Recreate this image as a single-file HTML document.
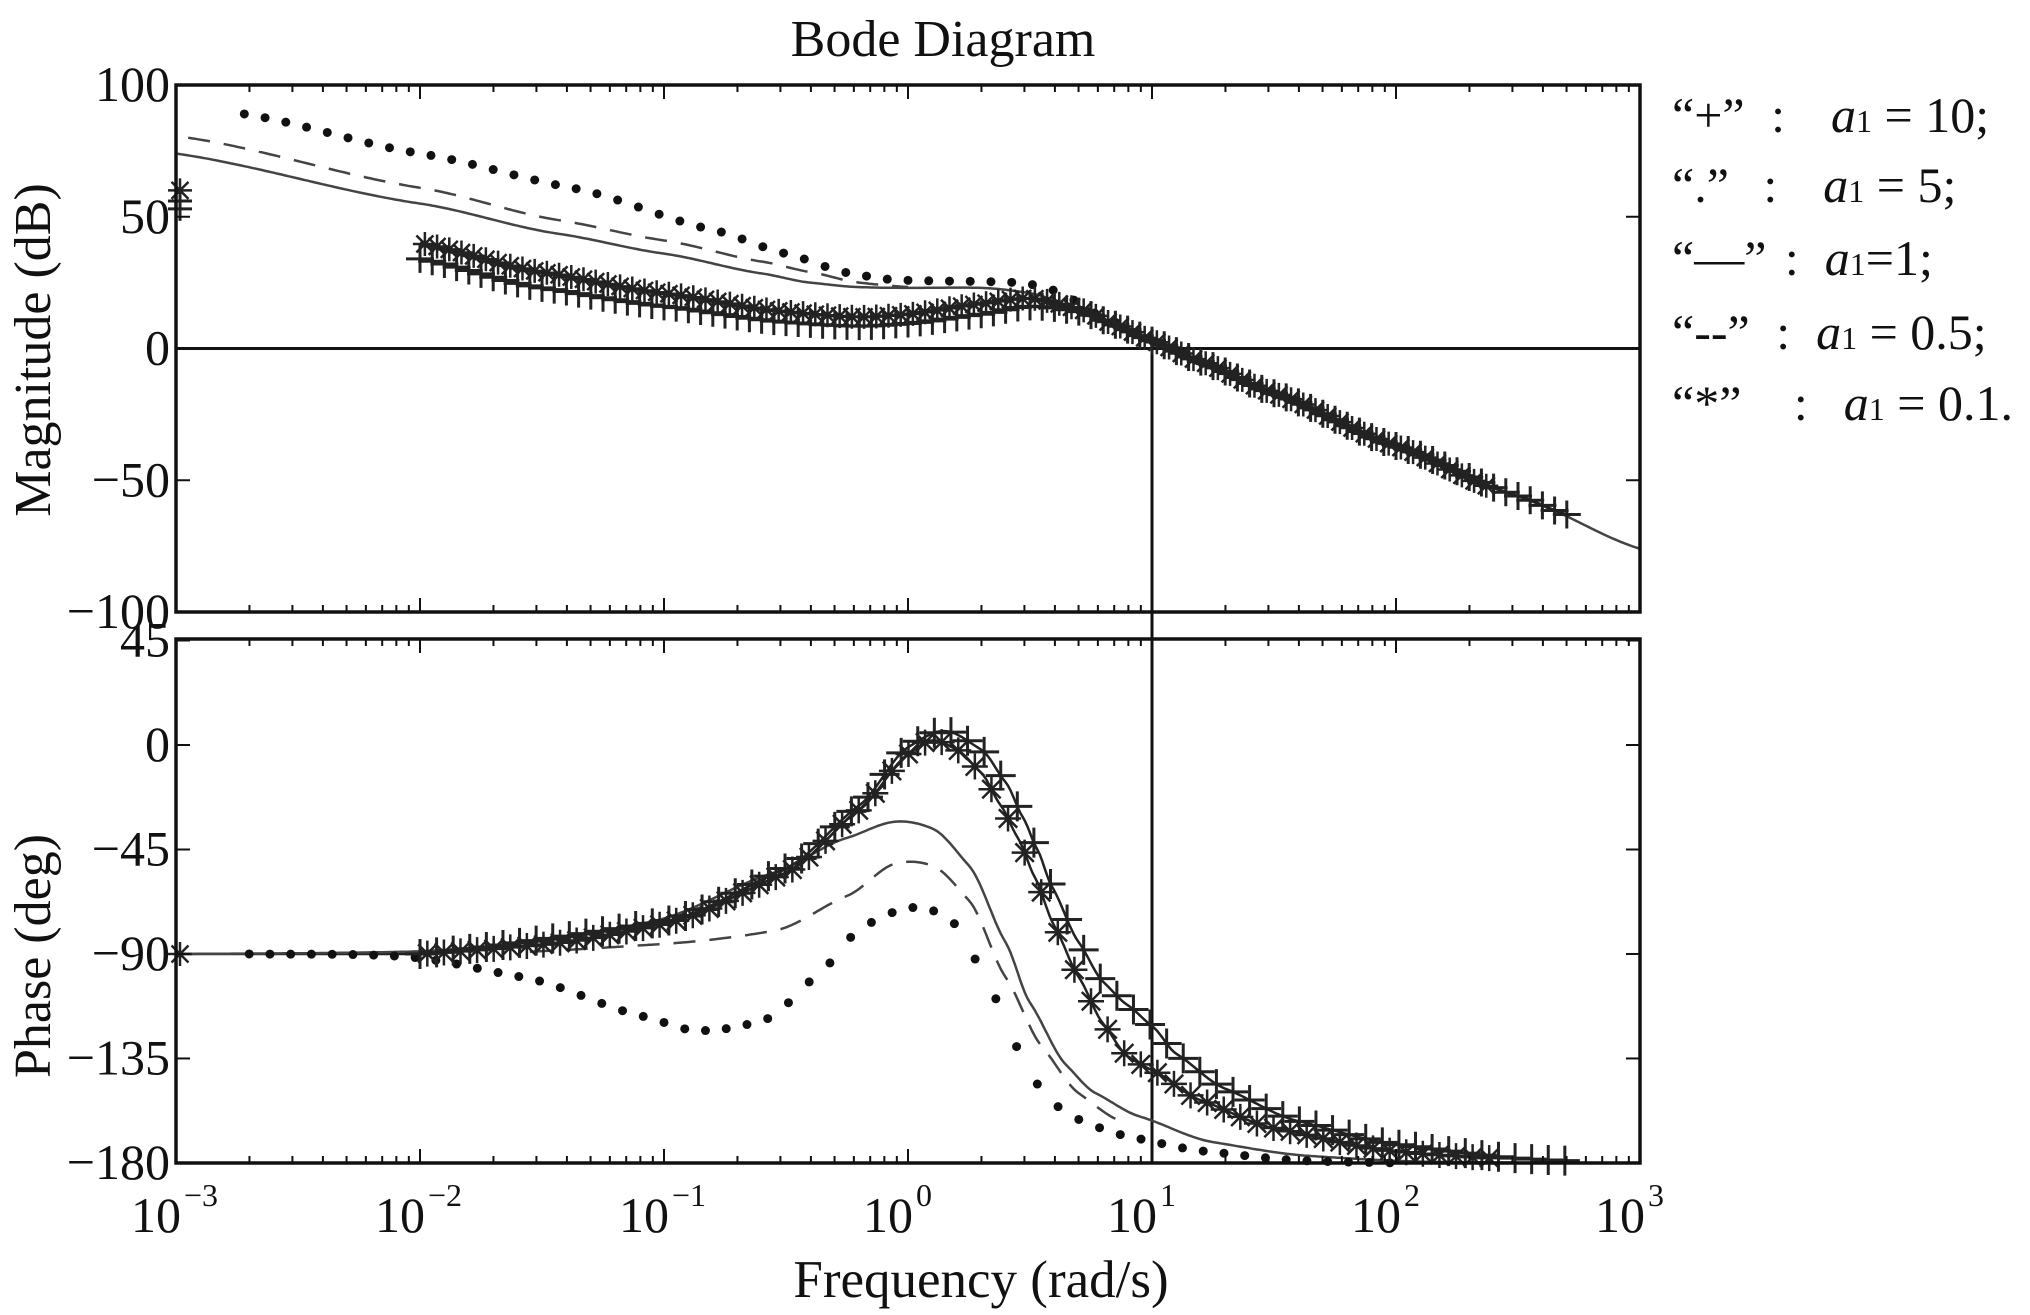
<!DOCTYPE html>
<html><head><meta charset="utf-8">
<style>
html,body{margin:0;padding:0;background:#fff;}
svg{display:block;}
text{font-family:"Liberation Serif",serif;fill:#111;}
</style></head>
<body>
<svg id="s" width="2030" height="1315" xmlns="http://www.w3.org/2000/svg">
<text x="943" y="56" font-size="52" text-anchor="middle">Bode Diagram</text>
<text transform="translate(50,350) rotate(-90)" font-size="52" text-anchor="middle">Magnitude (dB)</text>
<text transform="translate(50,956) rotate(-90)" font-size="52" text-anchor="middle">Phase (deg)</text>
<text x="981" y="1297" font-size="53" text-anchor="middle">Frequency (rad/s)</text>
<g font-size="50">
<text x="1672" y="132">“+” <tspan dx="14">:</tspan><tspan dx="46" font-style="italic">a</tspan><tspan font-size="32">1</tspan> = 10;</text>
<text x="1672" y="202">“.” <tspan dx="22">:</tspan><tspan dx="46" font-style="italic">a</tspan><tspan font-size="32">1</tspan> = 5;</text>
<text x="1672" y="275">“—” <tspan dx="6">:</tspan><tspan dx="26" font-style="italic">a</tspan><tspan font-size="32">1</tspan>=1;</text>
<text x="1672" y="349">“--” <tspan dx="14">:</tspan><tspan dx="26" font-style="italic">a</tspan><tspan font-size="32">1</tspan> = 0.5;</text>
<text x="1672" y="420">“*” <tspan dx="40">:</tspan><tspan dx="36" font-style="italic">a</tspan><tspan font-size="32">1</tspan> = 0.1.</text>
</g>
<g id="g"></g>
</svg>
<script>
const NS="http://www.w3.org/2000/svg",G=document.getElementById('g');
const X0=176,DEC=244,X1=X0+6*DEC;
const MT=85,MB=612,PT=639,PB=1163;
const xm=l=>X0+(l+3)*DEC;
const ym=d=>348.5-d*2.635;
const yp=d=>745-d*2.322;
function el(t,a,p){const e=document.createElementNS(NS,t);for(const k in a)e.setAttribute(k,a[k]);(p||G).appendChild(e);return e;}
function interp(pts,l){for(let i=0;i<pts.length-1;i++){const a=pts[i],b=pts[i+1];if(l>=a[0]&&l<=b[0]){
 const t=(l-a[0])/(b[0]-a[0]);
 const p0=pts[Math.max(0,i-1)],p3=pts[Math.min(pts.length-1,i+2)];
 const s1=(b[1]-p0[1])/(b[0]-p0[0]),s2=(p3[1]-a[1])/(p3[0]-a[0]);
 const m1=s1*(b[0]-a[0])*0.7,m2=s2*(b[0]-a[0])*0.7;
 const t2=t*t,t3=t2*t;
 return (2*t3-3*t2+1)*a[1]+(t3-2*t2+t)*m1+(-2*t3+3*t2)*b[1]+(t3-t2)*m2;}}return pts[pts.length-1][1];}
function shift(pts,s){return pts.map(p=>[p[0]+s,p[1]]);}
function samp(pts,step){const r=[];const a=pts[0][0],b=pts[pts.length-1][0];for(let l=a;l<=b+1e-9;l+=step)r.push([l,interp(pts,l)]);return r;}
function line(pts,yf,attrs){const s=samp(pts,0.01);el('polyline',Object.assign({points:s.map(p=>xm(p[0]).toFixed(1)+','+yf(p[1]).toFixed(1)).join(' '),fill:'none',stroke:'#444','stroke-width':2.5},attrs||{}));}
function plus(x,y,r){el('path',{d:`M${x-r},${y}H${x+r}M${x},${y-r}V${y+r}`,stroke:'#222','stroke-width':3,fill:'none'});}
function star(x,y,r){let d='';for(let k=0;k<4;k++){const a=k*Math.PI/4;d+=`M${x-r*Math.cos(a)},${y-r*Math.sin(a)}L${x+r*Math.cos(a)},${y+r*Math.sin(a)}`;}el('path',{d,stroke:'#222','stroke-width':2.5,fill:'none'});}
function dot(x,y){el('circle',{cx:x,cy:y,r:4.5,fill:'#111'});}
function markers(pts,yf,step,fn,off){const a=pts[0][0]+(off||0),b=pts[pts.length-1][0];for(let l=a;l<=b+1e-9;l+=step)fn(xm(l),yf(interp(pts,l)));}

el('line',{x1:X0,y1:ym(0),x2:X1,y2:ym(0),stroke:'#111','stroke-width':3});
el('line',{x1:xm(1),y1:ym(0),x2:xm(1),y2:PB,stroke:'#111','stroke-width':3});

// Magnitude
const mSolid=[[-3,74],[-2,55],[-1.43,43.5],[-1,36],[-0.6,28.5],[-0.4,25],[-0.2,23.3],[0,23],[0.3,23],[0.5,21],[0.7,15],[0.85,9],[1,3],[1.2,-5],[1.5,-17],[2,-37],[2.5,-56],[3,-76]];
const mDash=[[-2.95,80],[-2,61],[-1.43,48.7],[-1,41],[-0.6,33],[-0.4,29],[-0.2,25],[0,23.3]];
const mDot=[[-2.72,89],[-2,74],[-1.38,61],[-0.8,45],[-0.5,36],[-0.24,28.6],[-0.04,26],[0.45,25],[0.6,22],[0.8,12],[1,3],[1.2,-5]];
const mStar=[[-2,40],[-1.5,29],[-1,21],[-0.5,14],[-0.2,12],[0,13],[0.3,17],[0.5,19],[0.7,15],[0.85,9],[1,3],[1.2,-5],[1.5,-17],[2,-37],[2.4,-53]];
const mPlus=[[-2,34],[-1.5,23],[-1,16],[-0.5,10],[-0.2,8.5],[0,9.5],[0.3,13],[0.5,16],[0.7,14],[0.85,9],[1,3],[1.2,-5],[1.5,-17],[2,-37],[2.5,-56],[2.7,-63]];
line(mSolid,ym);
line(mDash,ym,{'stroke-dasharray':'22,14'});
markers(mDot,ym,0.085,dot);
line(mStar,ym,{stroke:'#222','stroke-width':3});
line(mPlus,ym,{stroke:'#222','stroke-width':3});
markers(mPlus,ym,0.05,(x,y)=>plus(x,y,14));
markers(mStar,ym,0.05,(x,y)=>star(x,y,12),0.02);
star(xm(-3)+4,ym(60),12);plus(xm(-3)+4,ym(53),12);plus(xm(-3)+4,ym(56),12);

// Phase
const pSolid=shift([[-2.95,-90],[-2,-89],[-1.5,-85],[-1,-76],[-0.5,-55],[-0.2,-40],[0,-33],[0.15,-36],[0.3,-52],[0.45,-85],[0.55,-111],[0.7,-138],[0.82,-150],[1,-160],[1.3,-171],[1.7,-177],[2.2,-179.5],[3.05,-180]],-0.05);
const pDash=shift([[-1.5,-89],[-1,-86],[-0.5,-80],[-0.2,-65],[0,-51],[0.15,-52],[0.3,-67],[0.45,-100],[0.6,-130],[0.75,-150],[0.9,-161]],-0.05);
const pDot=shift([[-2.62,-90],[-2,-91],[-1.5,-100],[-1,-117],[-0.78,-123],[-0.5,-118],[-0.3,-100],[-0.1,-78],[0.1,-70],[0.25,-75],[0.4,-100],[0.5,-125],[0.6,-145],[0.75,-160],[1,-169],[1.3,-175],[1.7,-179],[2.1,-180]],-0.08);
const pStar=[[-2,-90],[-1.5,-86],[-1,-77],[-0.5,-55],[-0.2,-28],[0,-4],[0.1,2],[0.2,-2],[0.3,-12],[0.38,-26],[0.45,-40],[0.52,-57],[0.6,-78],[0.7,-100],[0.8,-120],[0.9,-134],[1,-140],[1.2,-153],[1.5,-165],[2,-175],[2.4,-178]];
const pPlus=[[-2,-90],[-1,-76],[-0.5,-53],[-0.2,-26],[0,-1],[0.15,6],[0.3,-2],[0.4,-16],[0.47,-31],[0.53,-45],[0.59,-61],[0.7,-85],[0.8,-102],[0.9,-112],[1,-121],[1.1,-133],[1.3,-148],[1.6,-162],[2,-172],[2.5,-178],[2.7,-179]];
line([[-3,-90],[-2,-90]],yp,{stroke:'#222'});
line(pSolid,yp);
line(pDash,yp,{'stroke-dasharray':'22,14'});
markers(pDot,yp,0.085,dot);
line(pStar,yp,{stroke:'#222','stroke-width':2.5});
line(pPlus,yp,{stroke:'#222','stroke-width':2.5});
markers(pPlus,yp,0.068,(x,y)=>plus(x,y,15));
markers(pStar,yp,0.068,(x,y)=>star(x,y,13),0.03);
star(xm(-3)+4,yp(-90),12);

for(const [t,b] of [[MT,MB],[PT,PB]]){
 el('rect',{x:X0,y:t,width:X1-X0,height:b-t,fill:'none',stroke:'#111','stroke-width':3.5});
 for(let d=-3;d<3;d++)for(let k=1;k<10;k++){const x=xm(d+Math.log10(k));const L=k==1?14:7;
  el('line',{x1:x,y1:t,x2:x,y2:t+L,stroke:'#111','stroke-width':2});el('line',{x1:x,y1:b,x2:x,y2:b-L,stroke:'#111','stroke-width':2});}
}
const fs=50;
for(const v of [100,50,0,-50,-100]){const y=ym(v);el('line',{x1:X0,y1:y,x2:X0+14,y2:y,stroke:'#111','stroke-width':2});el('line',{x1:X1,y1:y,x2:X1-14,y2:y,stroke:'#111','stroke-width':2});
 const t=el('text',{x:X0-6,y:y+16,'font-size':fs,'text-anchor':'end'});t.textContent=v<0?'\u2212'+(-v):v;}
for(const v of [45,0,-45,-90,-135,-180]){const y=yp(v);el('line',{x1:X0,y1:y,x2:X0+14,y2:y,stroke:'#111','stroke-width':2});el('line',{x1:X1,y1:y,x2:X1-14,y2:y,stroke:'#111','stroke-width':2});
 const t=el('text',{x:X0-6,y:y+16,'font-size':fs,'text-anchor':'end'});t.textContent=v<0?'\u2212'+(-v):v;}
for(let d=-3;d<=3;d++){const x=xm(d);const t=el('text',{x:x-20,y:1232,'font-size':50,'text-anchor':'middle'});t.textContent='10';
 const s=el('text',{x:x+8,y:1206,'font-size':32,'text-anchor':'start'});s.textContent=d<0?'\u2212'+(-d):d;}
</script>
</body></html>
